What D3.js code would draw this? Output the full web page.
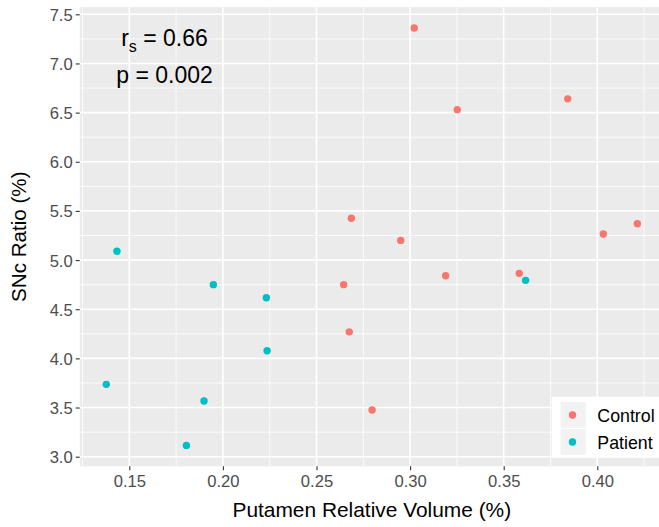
<!DOCTYPE html>
<html><head><meta charset="utf-8">
<script src="https://cdn.jsdelivr.net/npm/d3@7"></script>
<style>body{margin:0;background:#fff}svg{display:block}text{font-family:"Liberation Sans",Arial,sans-serif}</style>
</head><body><div id="chart"></div>
<script>
const groups = ["Control", "Patient"];
const colors = ["#F8766D", "#00BFC4"];
const controlX = [0.3022, 0.3252, 0.3842, 0.4214, 0.4032, 0.2686, 0.2950, 0.3190, 0.3583, 0.2645, 0.2675, 0.2797];
const controlY = [7.36, 6.53, 6.64, 5.37, 5.265, 5.425, 5.20, 4.84, 4.865, 4.75, 4.27, 3.475];
const patientX = [0.1434, 0.1949, 0.2232, 0.2236, 0.1377, 0.1899, 0.1805, 0.3617];
const patientY = [5.09, 4.75, 4.617, 4.078, 3.736, 3.566, 3.115, 4.794];
const xTicks = [0.15, 0.20, 0.25, 0.30, 0.35, 0.40];
const yTicks = [3.0, 3.5, 4.0, 4.5, 5.0, 5.5, 6.0, 6.5, 7.0, 7.5];
const xTitle = "Putamen Relative Volume (%)";
const yTitle = "SNc Ratio (%)";
const statR = "0.66";
const statP = "0.002";

const W = 659, H = 527;
const svg = d3.select("#chart").append("svg").attr("width", W).attr("height", H);

const allX = controlX.concat(patientX), allY = controlY.concat(patientY);
const xr = d3.extent(allX), yr = d3.extent(allY);
const xd = [xr[0] - 0.05 * (xr[1] - xr[0]), xr[1] + 0.05 * (xr[1] - xr[0])];
const yd = [yr[0] - 0.05 * (yr[1] - yr[0]), yr[1] + 0.05 * (yr[1] - yr[0])];

const x = d3.scaleLinear().domain([0.15, 0.40]).range([129.3, 597.3]);
const y = d3.scaleLinear().domain([3.0, 7.5]).range([456.7, 14.3]);

const pL = x(xd[0]), pR = x(xd[1]), pT = y(yd[1]), pB = y(yd[0]);

svg.append("rect").attr("x", pL).attr("y", pT).attr("width", pR - pL).attr("height", pB - pT).attr("fill", "#EBEBEB");

const xMinor = xTicks.map(t => t - 0.025).concat([xTicks[xTicks.length - 1] + 0.025]).filter(v => v > xd[0] && v < xd[1]);
const yMinor = yTicks.map(t => t - 0.25).concat([yTicks[yTicks.length - 1] + 0.25]).filter(v => v > yd[0] && v < yd[1]);

const grid = svg.append("g");
grid.selectAll(".xm").data(xMinor).join("line").attr("x1", d => x(d)).attr("x2", d => x(d)).attr("y1", pT).attr("y2", pB).attr("stroke", "#fff").attr("stroke-width", 0.8);
grid.selectAll(".ym").data(yMinor).join("line").attr("y1", d => y(d)).attr("y2", d => y(d)).attr("x1", pL).attr("x2", pR).attr("stroke", "#fff").attr("stroke-width", 0.8);
grid.selectAll(".xM").data(xTicks).join("line").attr("x1", d => x(d)).attr("x2", d => x(d)).attr("y1", pT).attr("y2", pB).attr("stroke", "#fff").attr("stroke-width", 1.6);
grid.selectAll(".yM").data(yTicks).join("line").attr("y1", d => y(d)).attr("y2", d => y(d)).attr("x1", pL).attr("x2", pR).attr("stroke", "#fff").attr("stroke-width", 1.6);

// axes
const xAxis = svg.append("g").attr("transform", `translate(0,${pB})`)
  .call(d3.axisBottom(x).tickValues(xTicks).tickFormat(d3.format(".2f")).tickSize(4).tickPadding(5));
const yAxis = svg.append("g").attr("transform", `translate(${pL},0)`)
  .call(d3.axisLeft(y).tickValues(yTicks).tickFormat(d3.format(".1f")).tickSize(4).tickPadding(3));
[xAxis, yAxis].forEach(a => {
  a.select(".domain").remove();
  a.selectAll(".tick line").attr("stroke", "#333333").attr("stroke-width", 1.1);
  a.selectAll(".tick text").attr("fill", "#4D4D4D").style("font-size", "16.6px");
});
yAxis.selectAll(".tick text").attr("dy", "0.36em");

// points
const pts = [];
controlX.forEach((v, i) => pts.push({x: v, y: controlY[i], g: 0}));
patientX.forEach((v, i) => pts.push({x: v, y: patientY[i], g: 1}));
svg.append("g").selectAll("circle").data(pts).join("circle")
  .attr("cx", d => x(d.x)).attr("cy", d => y(d.y)).attr("r", 3.7)
  .attr("fill", d => colors[d.g]);

// annotation
const annX = x(0.1688);
const t1 = svg.append("text").attr("x", annX).attr("y", y(7.18)).attr("text-anchor", "middle").style("font-size", "23px").attr("fill", "#000");
t1.append("tspan").text("r");
t1.append("tspan").attr("dy", 6).style("font-size", "16px").text("s");
t1.append("tspan").attr("dy", -6).text(" = " + statR);
svg.append("text").attr("x", annX).attr("y", y(6.80)).attr("text-anchor", "middle").style("font-size", "23px").attr("fill", "#000").text("p = " + statP);

// titles
svg.append("text").attr("x", (pL + pR) / 2).attr("y", 516.5).attr("text-anchor", "middle").style("font-size", "20.9px").attr("fill", "#000").text(xTitle);
svg.append("text").attr("transform", `translate(25.5,${(pT + pB) / 2}) rotate(-90)`).attr("text-anchor", "middle").style("font-size", "20.6px").attr("fill", "#000").text(yTitle);

// legend
const lg = svg.append("g");
lg.append("rect").attr("x", 551.7).attr("y", 396.7).attr("width", 120).attr("height", 61).attr("fill", "#fff");
groups.forEach((g, i) => {
  const ky = 402 + i * 27;
  lg.append("rect").attr("x", 560.7).attr("y", ky).attr("width", 25).attr("height", 26).attr("fill", "#F2F2F2");
  lg.append("circle").attr("cx", 572.5).attr("cy", ky + 13).attr("r", 3.7).attr("fill", colors[i]);
  lg.append("text").attr("x", 597.3).attr("y", ky + 20.3).style("font-size", "17.8px").attr("fill", "#000").text(g);
});
</script></body></html>
